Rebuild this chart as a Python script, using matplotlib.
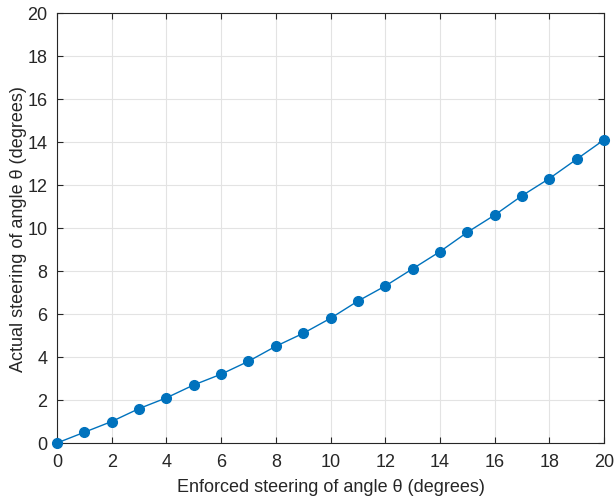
import matplotlib
matplotlib.use("Agg")
import matplotlib.pyplot as plt

x_vals = [0, 1, 2, 3, 4, 5, 6, 7, 8, 9, 10, 11, 12, 13, 14, 15, 16, 17, 18, 19, 20]
y_vals = [0, 0.5, 1.0, 1.6, 2.1, 2.7, 3.2, 3.8, 4.5, 5.1, 5.8, 6.6, 7.3, 8.1, 8.9, 9.8, 10.6, 11.5, 12.3, 13.2, 14.1]
x_ticks = [0, 2, 4, 6, 8, 10, 12, 14, 16, 18, 20]
y_ticks = [0, 2, 4, 6, 8, 10, 12, 14, 16, 18, 20]

plt.rcParams['font.family'] = ['Liberation Sans', 'DejaVu Sans']

fig = plt.figure(figsize=(6.15, 5.02), dpi=100)
ax = fig.add_axes([57/615, 1-444/502, (604-57)/615, (444-14)/502])

ax.plot(x_vals, y_vals, color='#0072BD', linewidth=1.0, marker='o', markersize=7,
        markerfacecolor='#0072BD', markeredgecolor='#0072BD', clip_on=False, zorder=3)

ax.set_xlim(0, 20)
ax.set_ylim(0, 20)
ax.set_xticks(x_ticks)
ax.set_yticks(y_ticks)
ax.grid(True, color='#e3e3e3', linewidth=0.8)
ax.set_axisbelow(True)
ax.tick_params(direction='in', top=True, right=True, length=4, width=0.8,
               labelsize=13, colors='#262626', labelcolor='#262626', pad=7)
for s in ax.spines.values():
    s.set_color('#262626')
    s.set_linewidth(0.8)

ax.set_xlabel('Enforced steering of angle θ (degrees)', fontsize=13, color='#262626', labelpad=6)
ax.set_ylabel('Actual steering of angle θ (degrees)', fontsize=13, color='#262626', labelpad=0)

fig.savefig('out.png', dpi=100)
